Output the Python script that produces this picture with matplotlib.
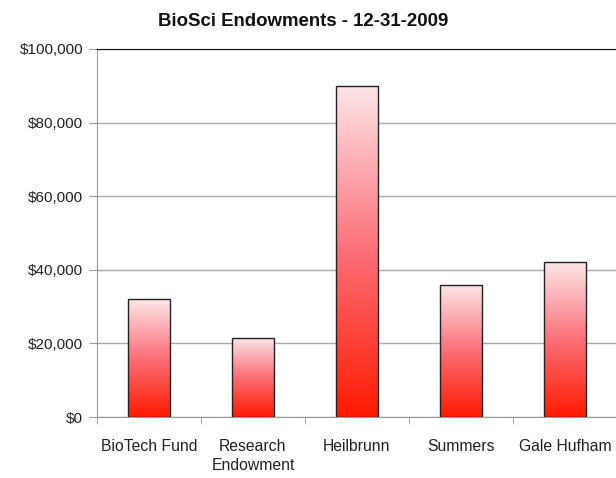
import numpy as np
import matplotlib.pyplot as plt
from matplotlib.colors import LinearSegmentedColormap
from matplotlib.patches import Rectangle
from matplotlib.ticker import FuncFormatter, FixedLocator

plt.rcParams['font.family'] = ['Liberation Sans', 'DejaVu Sans']

funds = ['BioTech Fund', 'Research\nEndowment', 'Heilbrunn', 'Summers', 'Gale Hufham']
values = [32000, 21500, 90000, 36000, 42000]

fig = plt.figure(figsize=(6.16, 4.78), dpi=100)
ax = fig.add_axes([97 / 616, 61 / 478, 520 / 616, 368 / 478])

# white-to-red vertical fade used inside every bar
fade = LinearSegmentedColormap.from_list('fade', ['#ff1a00', '#fb6f78', '#fde6e8'])
grad = np.linspace(0, 1, 256).reshape(-1, 1)

x = np.arange(len(funds))
width = 0.4
for xi, v in zip(x, values):
    img = ax.imshow(grad, cmap=fade, origin='lower', aspect='auto',
                    extent=(xi - width / 2, xi + width / 2, 0, v), zorder=2)
    box = Rectangle((xi - width / 2, 0), width, v, facecolor='none',
                    edgecolor='#222222', linewidth=1.0, zorder=3)
    ax.add_patch(box)
    img.set_clip_path(box)

ax.set_xlim(-0.5, len(funds) - 0.5)
ax.set_ylim(0, 100000)

ax.yaxis.set_major_locator(FixedLocator([0, 20000, 40000, 60000, 80000, 100000]))
ax.yaxis.set_major_formatter(FuncFormatter(lambda v, p: '${:,.0f}'.format(v)))
ax.set_xticks(x)
ax.set_xticklabels(funds)
ax.set_xticks(np.arange(-0.5, len(funds), 1.0), minor=True)
ax.tick_params(axis='x', which='major', length=0, pad=16, labelsize=11.3, colors='#222222')
ax.tick_params(axis='x', which='minor', length=5, color='#999999', direction='out')
ax.tick_params(axis='y', length=6, color='#999999', labelsize=11, labelcolor='#222222', pad=4)

for lbl in ax.get_xticklabels():
    lbl.set_va('top')
    lbl.set_linespacing(1.3)

ax.grid(axis='y', color='#aaaaaa', linewidth=1.0, zorder=0)
ax.set_axisbelow(True)
ax.spines['right'].set_visible(False)
ax.spines['top'].set_color('#111111')
ax.spines['left'].set_color('#999999')
ax.spines['bottom'].set_color('#999999')

fig.text(303 / 616, 1 - 21 / 478, 'BioSci Endowments - 12-31-2009',
         ha='center', va='center', fontsize=13.4, fontweight='bold', color='#111111')

fig.savefig('out.png', dpi=100)
